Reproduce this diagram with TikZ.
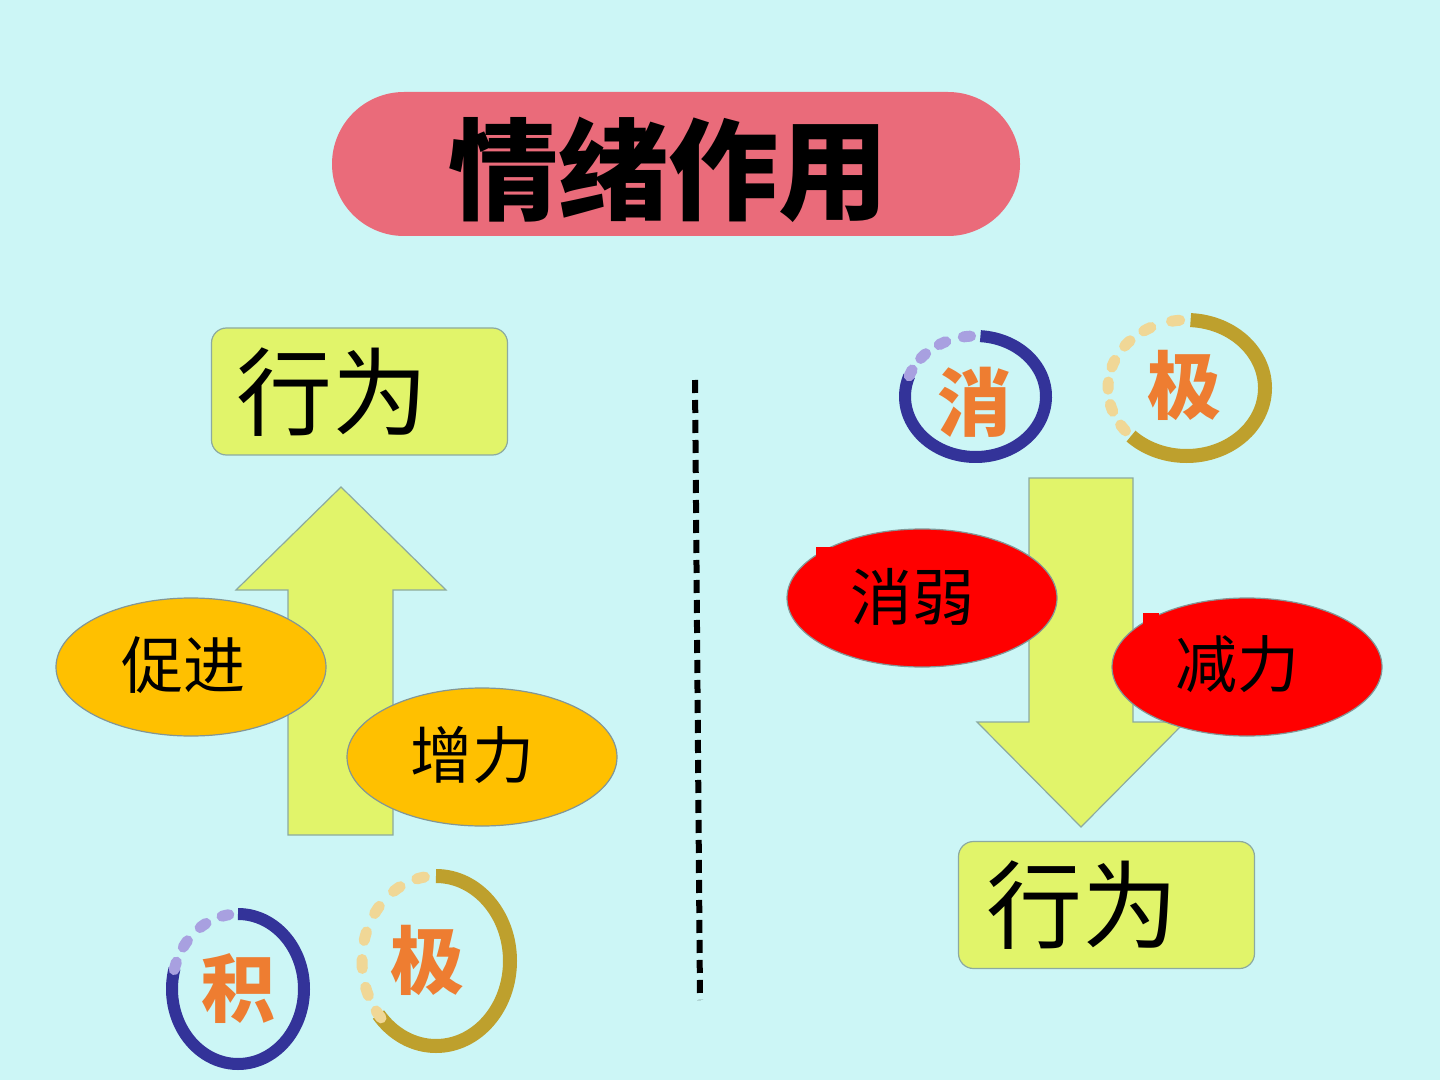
\documentclass[tikz,border=0pt]{standalone}
\usepackage{fontspec}
\newfontfamily\cjk{Noto Sans CJK SC}
\usetikzlibrary{shapes.geometric}
\definecolor{bgc}{RGB}{204,246,246}
\definecolor{pillc}{RGB}{234,107,122}
\definecolor{boxc}{RGB}{225,244,106}
\definecolor{boxb}{RGB}{140,170,160}
\definecolor{orc}{RGB}{255,192,0}
\definecolor{ellb}{RGB}{130,150,150}
\definecolor{redc}{RGB}{255,0,0}
\definecolor{txto}{RGB}{238,125,49}
\definecolor{navyc}{RGB}{51,51,153}
\definecolor{lavc}{RGB}{168,160,224}
\definecolor{goldc}{RGB}{190,160,45}
\definecolor{tanc}{RGB}{240,215,150}
\tikzset{
  pill/.style={fill=pillc, rounded corners=36pt, minimum width=344pt, minimum height=72pt, inner sep=0pt},
  boxstyle/.style={fill=boxc, draw=boxb, line width=0.6pt, rounded corners=7.5pt, minimum width=148pt, minimum height=63.5pt, inner sep=0pt},
  arrowshape/.style={fill=boxc, draw=boxb, line width=0.6pt},
  oell/.style={ellipse, fill=orc, draw=ellb, line width=0.6pt, minimum width=135pt, minimum height=69pt, inner sep=0pt},
  rell/.style={ellipse, fill=redc, draw=ellb, line width=0.6pt, minimum width=135pt, minimum height=69pt, inner sep=0pt},
  bigtxt/.style={font=\cjk\fontsize{48pt}{48pt}\selectfont, inner sep=0pt},
  midtxt/.style={font=\cjk\fontsize{31pt}{31pt}\selectfont, inner sep=0pt},
  ringtxt/.style={font=\cjk\bfseries\fontsize{37pt}{37pt}\selectfont, text=txto, inner sep=0pt},
  navyarc/.style={draw=navyc, line width=6pt},
  goldarc/.style={draw=goldc, line width=7pt},
  lavdot/.style={draw=lavc, line width=5.5pt, line cap=round},
  tandot/.style={draw=tanc, line width=5.5pt, line cap=round},
  divider/.style={line width=3pt, dash pattern=on 6.5pt off 3.5pt}
}
\begin{document}
\begin{tikzpicture}[x=0.5pt,y=-0.5pt]
\useasboundingbox (0,0) rectangle (1440,1080);
\fill[bgc] (0,0) rectangle (1440,1080);

% title
\node[pill] (title) at (676,164) {};
\node[font=\cjk\bfseries\fontsize{55pt}{55pt}\selectfont, inner sep=0pt] (titletext) at (668,170) {情绪作用};

% left side
\node[boxstyle] (box1) at (359.5,391.5) {};
\node[bigtxt, anchor=west] (box1t) at (236,392) {行为};
\draw[arrowshape] (341,487) -- (446,590) -- (393,590) -- (393,835) -- (288,835) -- (288,590) -- (236,590) -- cycle;
\node[oell] (cujin) at (191,667) {};
\node[midtxt] (cujint) at (183,665) {促进};
\node[oell] (zengli) at (482,757) {};
\node[midtxt] (zenglit) at (472,755) {增力};

% 积 ring
\draw[navyarc] (238,989) ++(-90:66 and 75) arc[start angle=-90, end angle=196, x radius=66, y radius=75];
\foreach \a in {101,122,143,162}
  \draw[lavdot] (238,989) ++(-\a-3:66 and 75) arc[start angle=-\a-3, end angle=-\a+3, x radius=66, y radius=75];
\node[ringtxt] (ji1) at (238,989) {积};
% 极 ring (left)
\draw[goldarc] (436,961) ++(-90:74 and 85) arc[start angle=-90, end angle=141, x radius=74, y radius=85];
\foreach \a in {102,122,143,163,182,201,219}
  \draw[tandot] (436,961) ++(-\a-3:74 and 85) arc[start angle=-\a-3, end angle=-\a+3, x radius=74, y radius=85];
\node[ringtxt] (ji2) at (427,960) {极};

% divider
\coordinate (d1) at (695,380);
\coordinate (d2) at (700,1000);
\draw[divider] (d1) -- (d2);

% right side
\draw[navyarc] (975.5,396.5) ++(-86:70.5 and 60.5) arc[start angle=-86, end angle=200, x radius=70.5, y radius=60.5];
\foreach \a in {97,118,138,157}
  \draw[lavdot] (975.5,396.5) ++(-\a-3:70.5 and 60.5) arc[start angle=-\a-3, end angle=-\a+3, x radius=70.5, y radius=60.5];
\node[ringtxt] (xiao) at (974,402) {消};
\draw[goldarc] (1186.5,388) ++(-87:78.5 and 68) arc[start angle=-87, end angle=135, x radius=78.5, y radius=68];
\foreach \a in {98,120,139,159,178,197,216}
  \draw[tandot] (1186.5,388) ++(-\a-3:78.5 and 68) arc[start angle=-\a-3, end angle=-\a+3, x radius=78.5, y radius=68];
\node[ringtxt] (ji3) at (1184,385) {极};

\draw[arrowshape] (1029,478) -- (1133,478) -- (1133,722) -- (1185,722) -- (1081,827) -- (977,722) -- (1029,722) -- cycle;
\node[rell] (xiaoruo) at (922,598) {};
\fill[redc] (816,547) rectangle (832,562);
\node[midtxt] (xiaoruot) at (912,597) {消弱};
\node[rell] (jianli) at (1247,667) {};
\fill[redc] (1143,613) rectangle (1159,628);
\node[midtxt] (jianlit) at (1237,664) {减力};

\node[boxstyle] (box2) at (1106.5,905) {};
\node[bigtxt, anchor=west] (box2t) at (986,905) {行为};
\end{tikzpicture}
\end{document}
